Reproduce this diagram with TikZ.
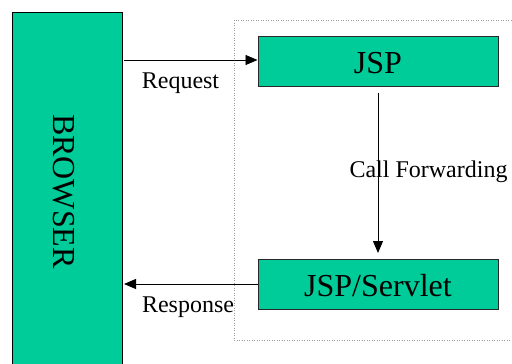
\documentclass[tikz,border=0pt]{standalone}
\usepackage{fontspec}
\setmainfont{Liberation Serif}
\usetikzlibrary{arrows.meta}
\definecolor{boxgreen}{RGB}{0,204,153}
\definecolor{boxline}{RGB}{40,40,40}
\tikzset{
  greenbox/.style={draw=boxline, line width=1pt, fill=boxgreen, inner sep=0pt,
    font=\fontsize{32}{34}\selectfont, text height=24pt, text depth=0pt},
  conn/.style={draw=black, line width=0.8pt, -{Triangle[length=12pt,width=10pt]}},
  lbl/.style={font=\fontsize{24}{26}\selectfont, anchor=base, inner sep=0pt},
}
\begin{document}
\begin{tikzpicture}[x=1pt,y=-1pt]
\useasboundingbox (0,0) rectangle (512,364);
% dotted container
\draw[gray!80, dotted, line width=0.5pt] (234,20) rectangle (520,340);
% browser
\node[draw=black, line width=1pt, fill=boxgreen, minimum width=110pt, minimum height=370pt, inner sep=0pt, anchor=north west] (browser) at (12,12) {};
\node[rotate=-90, font=\fontsize{32}{34}\selectfont, inner sep=0pt, text height=22pt, text depth=0pt] (btext) at (64.5,191.5) {BROWSER};
% boxes
\node[greenbox, minimum width=240pt, minimum height=50pt] (jsp) at (378,61) {JSP};
\node[greenbox, minimum width=240pt, minimum height=50pt] (serv) at (378,284) {JSP/Servlet};
% connectors
\coordinate (reqstart) at (124,60);
\coordinate (respend) at (124,284);
\draw[conn] (reqstart) -- (jsp.west |- reqstart);
\draw[conn] (jsp.south) ++(0,6) coordinate (cfstart) -- (378,253) coordinate (cfend);
\draw[conn] (serv.west) -- (respend);
% labels
\node[lbl] (req) at (180.5,88) {Request};
\node[lbl] (resp) at (188,312) {Response};
\node[lbl] (cf) at (428.5,177) {Call Forwarding};
\end{tikzpicture}
\end{document}
